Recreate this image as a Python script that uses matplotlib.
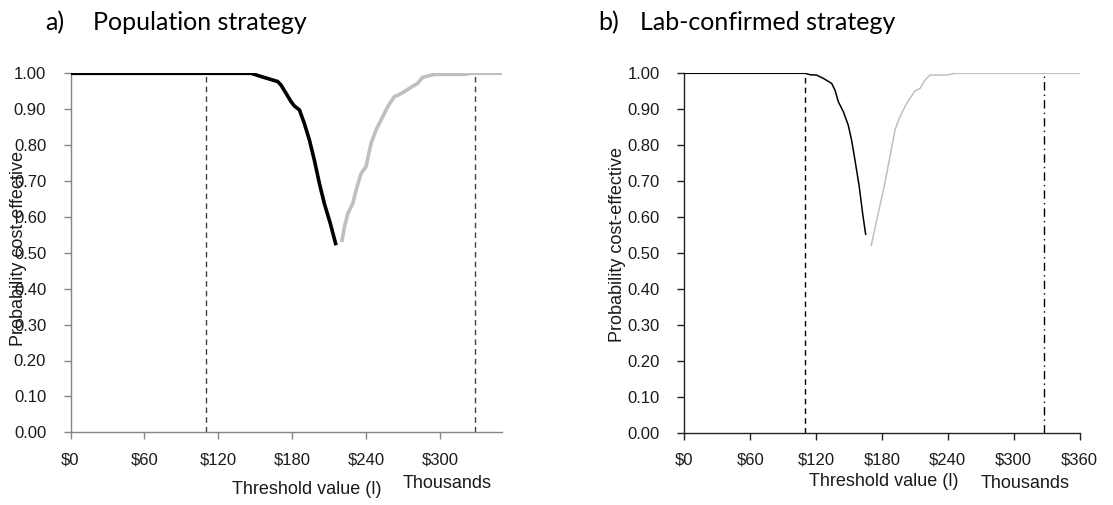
import matplotlib
matplotlib.use("Agg")
import matplotlib.pyplot as plt
from matplotlib.ticker import FuncFormatter

# ---- data (thousands of $, probability) ----
pop_x_black = [0, 146.5, 154.6, 168.1, 170.8, 174.9, 178.9, 181.6, 185.7, 189.7, 193.8,
               197.8, 201.9, 205.9, 210.8, 215.4]
pop_y_black = [1.0, 1.0, 0.991, 0.977, 0.967, 0.944, 0.921, 0.909, 0.898, 0.860, 0.814,
               0.758, 0.693, 0.637, 0.581, 0.521]
pop_x_grey = [220.0, 222.2, 224.9, 228.9, 231.6, 235.7, 239.7, 243.8, 247.8, 251.9, 257.3,
              262.7, 266.8, 270.8, 276.2, 281.6, 285.7, 295.1, 319.5, 324.9, 350.0]
pop_y_grey = [0.530, 0.572, 0.609, 0.637, 0.674, 0.721, 0.740, 0.805, 0.842, 0.870, 0.907,
              0.935, 0.941, 0.949, 0.961, 0.972, 0.989, 0.997, 0.997, 1.0, 1.0]

lab_x_black = [0, 110.2, 114.5, 120.5, 126.6, 134.2, 137.3, 140.3, 144.9, 149.3, 152.4,
               155.5, 159.4, 162.5, 165.2]
lab_y_black = [1.0, 1.0, 0.996, 0.995, 0.986, 0.972, 0.953, 0.921, 0.893, 0.856, 0.814,
               0.758, 0.684, 0.609, 0.552]
lab_x_grey = [170.3, 175.2, 181.3, 187.3, 191.9, 196.4, 202.5, 210.1, 214.7, 219.2, 223.8,
              238.9, 246.5, 360.0]
lab_y_grey = [0.521, 0.591, 0.674, 0.767, 0.842, 0.879, 0.916, 0.951, 0.958, 0.981, 0.995,
              0.995, 1.0, 1.0]

thresholds = [110, 328]
pop_xticks = [0, 60, 120, 180, 240, 300]
lab_xticks = [0, 60, 120, 180, 240, 300, 360]
yticks = [0.0, 0.1, 0.2, 0.3, 0.4, 0.5, 0.6, 0.7, 0.8, 0.9, 1.0]

plt.rcParams['font.family'] = ['Liberation Sans', 'DejaVu Sans']

fig = plt.figure(figsize=(11.13, 5.05), dpi=100)
W, H = 1113, 505

def make_axes(x0, x1, y0, y1):
    return fig.add_axes([x0 / W, 1 - y1 / H, (x1 - x0) / W, (y1 - y0) / H])

ax1 = make_axes(70.5, 502, 73.3, 432.3)
ax2 = make_axes(684.3, 1079.5, 73.3, 432.7)

money = FuncFormatter(lambda v, p: f"${v:.0f}")

def style(ax, xmax, xticks, spine_col):
    ax.set_xlim(0, xmax)
    ax.set_ylim(0, 1)
    ax.set_xticks(xticks)
    ax.set_yticks(yticks)
    ax.xaxis.set_major_formatter(money)
    ax.yaxis.set_major_formatter(FuncFormatter(lambda v, p: f"{v:.2f}"))
    for s in ['top', 'right']:
        ax.spines[s].set_visible(False)
    for s in ['left', 'bottom']:
        ax.spines[s].set_color(spine_col)
        ax.spines[s].set_linewidth(1.0)
    ax.tick_params(axis='both', which='major', direction='out', length=5, width=1,
                   color=spine_col, labelsize=12, labelcolor='#1a1a1a')
    ax.tick_params(axis='y', pad=12.5)
    ax.tick_params(axis='x', pad=9.5)

style(ax1, 350, pop_xticks, '#868686')
style(ax2, 360, lab_xticks, '#222222')

# Panel a
ax1.plot(pop_x_black, pop_y_black, color='black', lw=2.6, solid_capstyle='butt', zorder=3)
ax1.plot(pop_x_grey, pop_y_grey, color='#bfbfbf', lw=2.6, solid_capstyle='butt', zorder=3)
for t in thresholds:
    ax1.axvline(t, color='#404040', lw=1.0, linestyle=(0, (4, 3)), zorder=2)

# Panel b
ax2.plot(lab_x_black, lab_y_black, color='black', lw=1.1, zorder=3)
ax2.plot(lab_x_grey, lab_y_grey, color='#bfbfbf', lw=1.1, zorder=3)
ax2.axvline(thresholds[0], color='black', lw=1.0, linestyle=(0, (4, 3)), zorder=2)
ax2.axvline(thresholds[1], color='black', lw=1.0, linestyle=(0, (6, 3, 1, 3)), zorder=2)

# Titles
tfont = dict(family=['Lato', 'DejaVu Sans'], fontsize=18, color='black')
fig.text(45 / W, 1 - 23 / H, "a)", va='center', ha='left', **tfont)
fig.text(93 / W, 1 - 23 / H, "Population strategy", va='center', ha='left', **tfont)
fig.text(598 / W, 1 - 23 / H, "b)", va='center', ha='left', **tfont)
fig.text(640 / W, 1 - 23 / H, "Lab-confirmed strategy", va='center', ha='left', **tfont)

# Axis labels
lfont = dict(fontsize=13, color='#1a1a1a')
fig.text(19 / W, 1 - 248 / H, "Probability cost-effective", rotation=90,
         va='center', ha='center', **lfont)
fig.text(617 / W, 1 - 245 / H, "Probability cost-effective", rotation=90,
         va='center', ha='center', **lfont)
fig.text(307 / W, 1 - 490 / H, "Threshold value (l)", va='center', ha='center', **lfont)
fig.text(447 / W, 1 - 483 / H, "Thousands", va='center', ha='center', **lfont)
fig.text(884 / W, 1 - 482 / H, "Threshold value (l)", va='center', ha='center', **lfont)
fig.text(1025 / W, 1 - 484 / H, "Thousands", va='center', ha='center', **lfont)

fig.savefig("out.png", dpi=100)
